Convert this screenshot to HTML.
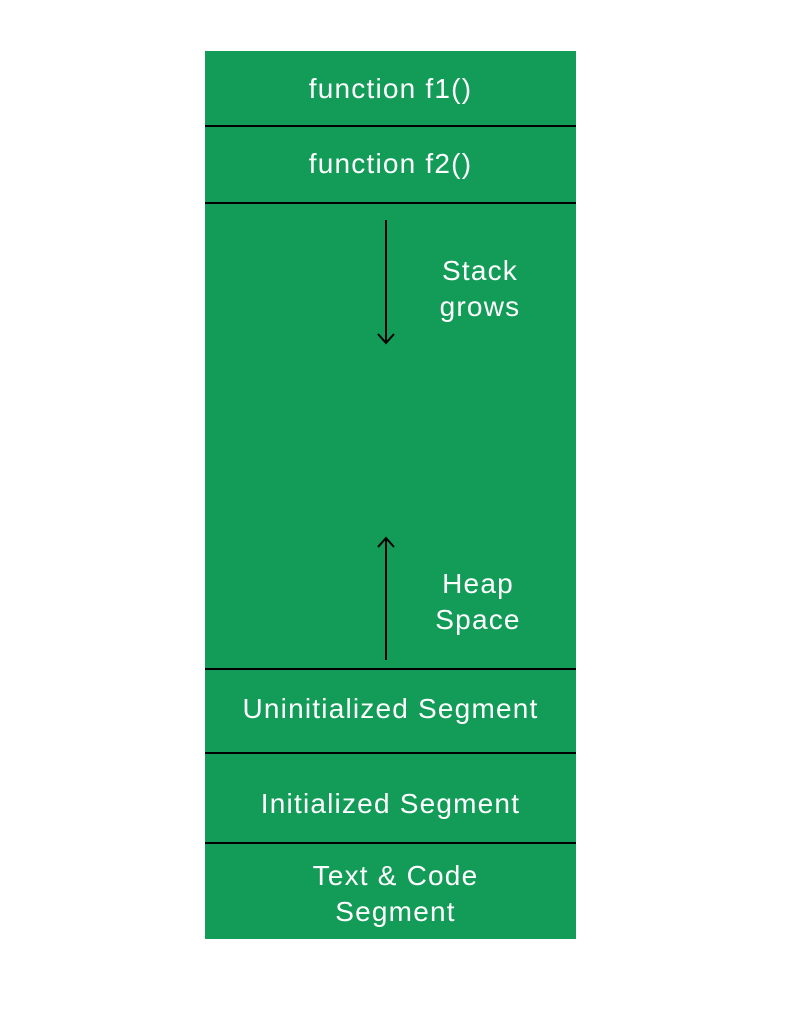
<!DOCTYPE html>
<html><head><meta charset="utf-8"><style>
html,body{margin:0;padding:0;background:#fff;}
body{width:812px;height:1024px;position:relative;overflow:hidden;font-family:"Liberation Sans",sans-serif;}
.box{position:absolute;left:205px;top:51px;width:371px;height:888px;background:#139c57;}
.ln{position:absolute;left:205px;width:371px;height:2px;background:#000;}
.t{position:absolute;color:#fff;font-size:28px;letter-spacing:1.2px;text-align:center;line-height:36px;}
</style></head><body>
<div class="box"></div>
<div class="ln" style="top:125px"></div>
<div class="ln" style="top:202px"></div>
<div class="ln" style="top:668px"></div>
<div class="ln" style="top:752px"></div>
<div class="ln" style="top:842px"></div>
<div class="t" style="left:205px;width:371px;top:71px">function f1()</div>
<div class="t" style="left:205px;width:371px;top:146px">function f2()</div>
<div class="t" style="left:400px;width:160px;top:253px">Stack<br>grows</div>
<div class="t" style="left:398px;width:160px;top:566px">Heap<br>Space</div>
<div class="t" style="left:205px;width:371px;top:691px">Uninitialized Segment</div>
<div class="t" style="left:205px;width:371px;top:786px">Initialized Segment</div>
<div class="t" style="left:210px;width:371px;top:858px">Text &amp; Code<br>Segment</div>
<svg width="812" height="1024" style="position:absolute;left:0;top:0">
<g stroke="#000" stroke-width="2" fill="none">
<line x1="386" y1="220" x2="386" y2="343"/>
<polyline points="378,334 386,343 394,334"/>
<line x1="386" y1="538" x2="386" y2="660"/>
<polyline points="378,547 386,538 394,547"/>
</g></svg>
</body></html>
